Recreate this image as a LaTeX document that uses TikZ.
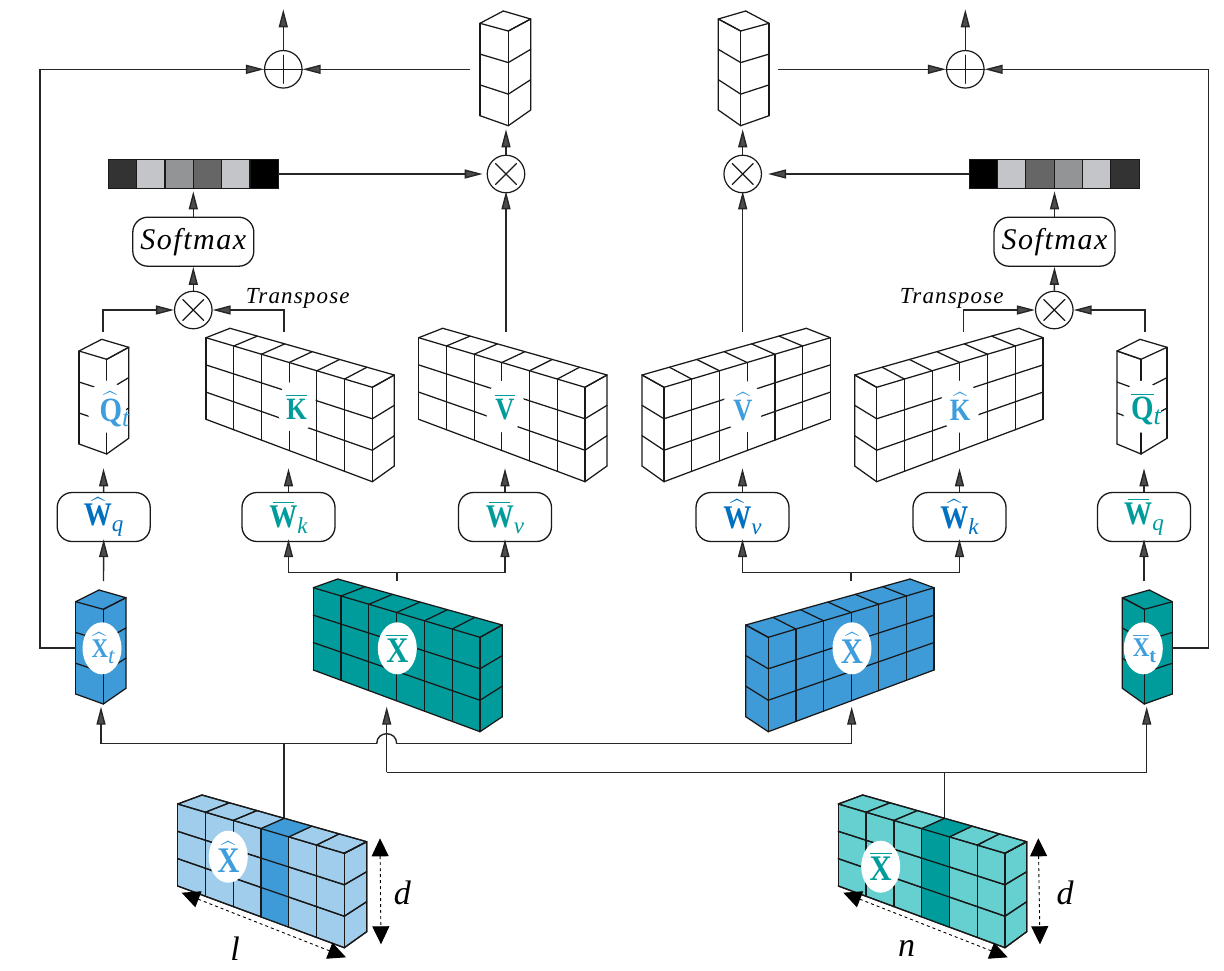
\documentclass[tikz,border=0pt]{standalone}
\usepackage{fontspec}
\usepackage{exscale}
\setmainfont{Liberation Serif}
\newfontfamily\spacedf[LetterSpace=5]{Liberation Serif}
\newfontfamily\labf[FakeStretch=0.85]{Liberation Serif}
\usetikzlibrary{arrows.meta,calc,shapes.geometric}
\definecolor{cblue}{HTML}{3F9BD8}
\definecolor{lblue}{HTML}{A1CDEC}
\definecolor{cteal}{HTML}{009C9C}
\definecolor{lteal}{HTML}{66CFCF}
\definecolor{wblue}{HTML}{0070C0}
\definecolor{tblue}{HTML}{3D9DDD}
\newcommand\hb[1]{$\widehat{\mbox{\labf\bfseries #1}}$}
\newcommand\ob[1]{$\overline{\mbox{\labf\bfseries #1}}$}
\newcommand\hbw{\ooalign{\hfil$\widehat{\vphantom{\mbox{\labf\bfseries W}}\hspace{15pt}}$\hfil\cr\mbox{\labf\bfseries W}\cr}}
\newcommand\obw{\ooalign{\hfil$\overline{\vphantom{\mbox{\labf\bfseries W}}\hspace{21pt}}$\hfil\cr\mbox{\labf\bfseries W}\cr}}
\newcommand\sbs[1]{\raisebox{-6pt}{\fontsize{23}{23}\selectfont\itshape #1}}
\newcommand\sbq[1]{\raisebox{-5pt}{\fontsize{26}{26}\selectfont\itshape #1}}
\newcommand\sbu[1]{\raisebox{-6pt}{\fontsize{20}{20}\selectfont\bfseries #1}}
% FA FB GA GB TA TB RB cols/rows fill
\newcommand\tens[9]{%
 \coordinate (fa) at #1; \coordinate (fb) at #2; \coordinate (ga) at #3;
 \coordinate (gb) at #4; \coordinate (ta) at #5; \coordinate (tb) at #6; \coordinate (rb) at #7;
 \fill[#9] (fa)--(ta)--(tb)--(rb)--(gb)--(ga)--cycle;
 \tenslines{#8}}
\newcommand\tenslines[1]{\tensgrid#1\relax}
\def\tensgrid#1/#2\relax{%
 \foreach \i in {0,...,#1}{
  \pgfmathsetmacro\t{\i/#1}
  \draw[wire] ($(fa)!\t!(fb)$)--($(ga)!\t!(gb)$);
  \draw[wire] ($(fa)!\t!(fb)$)--($(ta)!\t!(tb)$);}
 \foreach \j in {0,...,#2}{
  \pgfmathsetmacro\s{\j/#2}
  \draw[wire] ($(fa)!\s!(ga)$)--($(fb)!\s!(gb)$);
  \draw[wire] ($(fb)!\s!(gb)$)--($(tb)!\s!(rb)$);}
 \draw[wire] (ta)--(tb)--(rb);}
\newcommand\shadecol[3]{%
 \pgfmathsetmacro\ta{#1/#2}\pgfmathsetmacro\tb{(#1+1)/#2}
 \fill[#3] ($(ta)!\ta!(tb)$)--($(ta)!\tb!(tb)$)--($(fa)!\tb!(fb)$)--($(ga)!\tb!(gb)$)--($(ga)!\ta!(gb)$)--($(fa)!\ta!(fb)$)--cycle;}
\begin{document}
\begin{tikzpicture}[x=1pt,y=-1pt,
 wire/.style={line width=1.25pt,draw=black!90,line cap=round,line join=round},
 conn/.style={line width=1.4pt,draw=black!85},
 arr/.style={conn,-{Triangle[length=18pt,width=9pt,fill=black!70]}},
 dimarr/.style={line width=0.9pt,dashed,{Triangle[length=18pt,width=17pt,fill=black]}-{Triangle[length=18pt,width=17pt,fill=black]}},
 rbox/.style={draw=black!90,line width=1.3pt,rounded corners=15pt,fill=white,minimum width=93pt,minimum height=49pt,inner sep=0pt},
 sbox/.style={rbox,minimum width=121pt},
 oper/.style={circle,draw=black!90,line width=1.2pt,fill=white,minimum size=37.5pt,inner sep=0pt},
 lens/.style={ellipse,fill=white,minimum width=39pt,minimum height=52pt,inner sep=0pt},
 labw/.style={inner sep=0pt,font=\fontsize{33}{33}\selectfont},
 labk/.style={inner sep=0pt,font=\fontsize{31}{31}\selectfont},
 labq/.style={inner sep=0pt,font=\fontsize{34}{34}\selectfont},
 labx/.style={inner sep=0pt,font=\fontsize{36}{36}\selectfont},
 labs/.style={inner sep=0pt,font=\fontsize{27}{27}\selectfont},
 dlab/.style={inner sep=0pt,font=\fontsize{34}{34}\selectfont\itshape},
 cell/.style={draw=black!90,line width=1pt,minimum width=28.3pt,minimum height=28.7pt,inner sep=0pt,outer sep=0pt},
]
\useasboundingbox (0,0) rectangle (1224,970);
\fill[white] (0,0) rectangle (1224,970);

% ---- tensors ----
\tens{(480,23.3)}{(508.3,31)}{(480,115.7)}{(508.3,125.7)}{(503.3,11)}{(530.7,19)}{(530.7,110)}{1/3}{white}
\tens{(769,23.3)}{(740.7,31)}{(769,115.7)}{(740.7,125.7)}{(745.7,11)}{(718.3,19)}{(718.3,110)}{1/3}{white}
\tens{(79,351)}{(106.7,359.3)}{(79,444)}{(106.7,454)}{(101.7,339.3)}{(128.7,347.3)}{(128.7,438.3)}{1/3}{white}
\tens{(1167,347.3)}{(1141,359.3)}{(1167,438.3)}{(1141,454)}{(1140,339.3)}{(1117,351)}{(1117,444)}{1/3}{white}
\tens{(206,337.7)}{(372.3,387.3)}{(206,419.3)}{(372.3,481.7)}{(230,328.3)}{(394.3,375)}{(394.3,466)}{6/3}{white}
\tens{(418.7,337.7)}{(585,387.3)}{(418.7,419.3)}{(585,481.7)}{(442.7,328.3)}{(607,375)}{(607,466)}{6/3}{white}
\tens{(830.3,337.7)}{(664,387.3)}{(830.3,419.3)}{(664,481.7)}{(806.3,328.3)}{(642,375)}{(642,466)}{6/3}{white}
\tens{(1043,337.7)}{(876.7,387.3)}{(1043,419.3)}{(876.7,481.7)}{(1019,328.3)}{(854.7,375)}{(854.7,466)}{6/3}{white}
\tens{(75.7,601.7)}{(103.3,609.3)}{(75.7,694)}{(103.3,704)}{(99,590)}{(126,597.7)}{(126,688.3)}{1/3}{cblue}
\tens{(1172.3,601.7)}{(1144.3,609.3)}{(1172.3,694)}{(1144.3,704)}{(1149.3,590)}{(1122.3,597.7)}{(1122.3,688.3)}{1/3}{cteal}
\tens{(313.3,587.7)}{(480,637.3)}{(313.3,670)}{(480,731.7)}{(337.7,579)}{(502.3,625)}{(502.3,716.7)}{6/3}{cteal}
\tens{(934,587.7)}{(768.3,637.3)}{(934,670)}{(768.3,731.7)}{(910,579)}{(745.7,625)}{(745.7,716.7)}{6/3}{cblue}

% ---- operators ----
\node[oper] (addL) at (283.3,69.3) {};
\node[oper] (addR) at (965.3,69.3) {};
\node[oper] (mulL) at (506,174) {};
\node[oper] (mulR) at (742.7,174) {};
\node[oper] (msL) at (193.3,310) {};
\node[oper] (msR) at (1054.3,310) {};
\draw[wire] ([yshift=-14pt]addL.center)--([yshift=14pt]addL.center) (addL.west)--(addL.east);
\draw[wire] ([yshift=-14pt]addR.center)--([yshift=14pt]addR.center) (addR.west)--(addR.east);
\foreach \n in {mulL,mulR,msL,msR}{
 \draw[wire] ([shift={(-10.5,-10.5)}]\n.center)--([shift={(10.5,10.5)}]\n.center);
 \draw[wire] ([shift={(-10.5,10.5)}]\n.center)--([shift={(10.5,-10.5)}]\n.center);}

\node[sbox] (softL) at (193.3,241.7) {\raisebox{-4pt}{\spacedf\itshape\fontsize{30}{30}\selectfont Softmax}};
\node[sbox] (softR) at (1054.5,241.7) {\raisebox{-4pt}{\spacedf\itshape\fontsize{30}{30}\selectfont Softmax}};
\node[inner sep=0pt] (trL) at (297.7,298) {\spacedf\itshape\fontsize{23}{23}\selectfont Transpose};
\node[inner sep=0pt] (trR) at (951.7,298) {\spacedf\itshape\fontsize{23}{23}\selectfont Transpose};

% softmax bars
\foreach \c [count=\i from 0] in {333333,C4C5C9,939496,666666,C4C5C9,000000}{
 \definecolor{cc}{HTML}{\c}
 \node[cell,fill=cc] at (122.5+28.33*\i,174.3) {};}
\foreach \c [count=\i from 0] in {000000,C4C5C9,666666,939496,C4C5C9,333333}{
 \definecolor{cc}{HTML}{\c}
 \node[cell,fill=cc] at (983.2+28.33*\i,174.3) {};}
\coordinate (barL) at (278.3,174);
\coordinate (barR) at (969,174);
\coordinate (barLb) at (193.3,189);
\coordinate (barRb) at (1054.5,189);

\node[rbox] (wqL) at (103.7,517) {};
\node[rbox] (wkL) at (288.5,517) {};
\node[rbox] (wvL) at (505,517) {};
\node[rbox] (wvR) at (742.5,517) {};
\node[rbox] (wkR) at (959.5,517) {};
\node[rbox] (wqR) at (1144,517) {};
\node[labw,text=wblue] at (wqL) {\hbw\sbs{q}};
\node[labw,text=cteal] at (wkL) {\obw\sbs{k}};
\node[labw,text=cteal] at (wvL) {\obw\sbs{v}};
\node[labw,text=wblue] at (wvR) {\hbw\sbs{v}};
\node[labw,text=wblue] at (wkR) {\hbw\sbs{k}};
\node[labw,text=cteal] at (wqR) {\obw\sbs{q}};

% connector coordinates
\coordinate (stackLb) at (506,129.3);
\coordinate (stackRb) at (742.7,129.3);
\coordinate (stackLl) at (470,69.3);
\coordinate (stackRr) at (778.3,69.3);
\coordinate (upL) at (283.3,9.3);
\coordinate (upR) at (965.3,9.3);
\coordinate (vbarT) at (506,331.7);
\coordinate (vhatT) at (742.7,331.7);
\coordinate (qhT) at (103,331.7);
\coordinate (kbT) at (284,331.7);
\coordinate (khT) at (963.5,331.7);
\coordinate (qbT) at (1145,331.7);
\coordinate (xtL) at (75.7,648);
\coordinate (xtR) at (1172.3,648);
\coordinate (xbT) at (397,581);
\coordinate (xhT) at (851,581);
\coordinate (xtLt) at (103.5,581);
\coordinate (xtRt) at (1144,581);
\coordinate (xtLb) at (101,706.7);
\coordinate (xbB) at (386.7,706.7);
\coordinate (xhB) at (851.7,706.7);
\coordinate (xtRb) at (1146.7,706.7);
\coordinate (srcL) at (284,818);
\coordinate (srcR) at (944.3,818);
\coordinate (wqLt) at (103.5,468.3);
\coordinate (wkLt) at (288.5,468.3);
\coordinate (wvLt) at (505,468.3);
\coordinate (wvRt) at (742.5,468.3);
\coordinate (wkRt) at (959.5,468.3);
\coordinate (wqRt) at (1144,468.3);

\draw[arr] (xtL)--(40,648)--(40,69.3)--(addL.west);
\draw[arr] (stackLl)--(addL.east);
\draw[arr] (addL.north)--(upL);
\draw[arr] (xtR)--(1208.7,648)--(1208.7,69.3)--(addR.east);
\draw[arr] (stackRr)--(addR.west);
\draw[arr] (addR.north)--(upR);
\draw[arr] (barL)--([xshift=-4pt]mulL.west);
\draw[arr] (barR)--([xshift=6pt]mulR.east);
\draw[arr] (mulL.north)--(stackLb);
\draw[arr] (mulR.north)--(stackRb);
\draw[arr] (vbarT)--([yshift=2pt]mulL.south);
\draw[arr] (vhatT)--([yshift=2pt]mulR.south);
\draw[arr] (softL.north)--(barLb|-0,191.3);
\draw[arr] (softR.north)--(barRb|-0,191.3);
\draw[arr] (msL.north)--(softL.south);
\draw[arr] (msR.north)--(softR.south);
\draw[arr] (qhT)--(qhT|-msL)--(msL.west);
\draw[arr] (kbT)--(kbT|-msL)--(msL.east);
\draw[arr] (khT)--(khT|-msR)--(msR.west);
\draw[arr] (qbT)--(qbT|-msR)--(msR.east);
\foreach \b/\t in {wqL/wqLt,wkL/wkLt,wvL/wvLt,wvR/wvRt,wkR/wkRt,wqR/wqRt}{
 \draw[arr] (\b.north)--(\t);}
\draw[arr] (xtLt)--([yshift=3pt]wqL.south);
\draw[arr] (xtRt)--([yshift=3pt]wqR.south);
\draw[conn] (xbT)--(xbT|-0,572.5);
\draw[conn] (xhT)--(xhT|-0,572.5);
\draw[arr] (xbT|-0,572.5)-|([yshift=3pt]wkL.south);
\draw[arr] (xbT|-0,572.5)-|([yshift=3pt]wvL.south);
\draw[arr] (xhT|-0,572.5)-|([yshift=3pt]wvR.south);
\draw[arr] (xhT|-0,572.5)-|([yshift=3pt]wkR.south);
\draw[conn] (srcL)--(srcL|-0,743.7);
\draw[conn] (srcR)--(srcR|-0,772.3);
\draw[arr] (376.7,743.7)--(xtLb|-0,743.7)--(xtLb);
\draw[arr] (396.7,743.7)--(xhB|-0,743.7)--(xhB);
\draw[conn] (376.7,743.7) .. controls (376.7,730.4) and (396.7,730.4) .. (396.7,743.7);
\draw[arr] (xbB|-0,772.3)--(xbB);
\draw[arr] (xbB|-0,772.3)--(xtRb|-0,772.3)--(xtRb);

% source tensors
\tens{(177.7,804)}{(344.3,853.3)}{(177.7,886)}{(344.3,947.7)}{(202,795)}{(366.7,841.7)}{(366.7,931.7)}{6/3}{lblue}
\shadecol{3}{6}{cblue}
\tenslines{6/3}
\tens{(838.3,804)}{(1005,853.3)}{(838.3,886)}{(1005,947.7)}{(862.7,795)}{(1026.7,841.7)}{(1026.7,931.7)}{6/3}{lteal}
\shadecol{3}{6}{cteal}
\tenslines{6/3}

% lenses + labels
\node[lens] (e1) at (106.7,406.7) {};
\node[labq,text=tblue] at (114.5,409) {\hb{Q}\sbq{t}};
\node[lens] (e2) at (296.7,406.7) {};
\node[labk,text=cteal] at (e2) {\ob{K}};
\node[lens] (e3) at (505,406.7) {};
\node[labk,text=cteal] at (e3) {\ob{V}};
\node[lens] (e4) at (743,406.7) {};
\node[labk,text=tblue] at (e4) {\hb{V}};
\node[lens] (e5) at (960,406.7) {};
\node[labk,text=tblue] at (e5) {\hb{K}};
\node[lens] (e6) at (1142,406.7) {};
\node[labq,text=cteal] at (1146,409) {\ob{Q}\sbq{t}};
\node[lens] (e7) at (102,648.3) {};
\node[labs,text=tblue] at (103,648) {\hb{X}\sbs{t}};
\node[lens] (e8) at (397.3,648.3) {};
\node[labx,text=cteal] at (e8) {\ob{X}};
\node[lens] (e9) at (852,648.3) {};
\node[labx,text=tblue] at (e9) {\hb{X}};
\node[lens] (e10) at (1143.3,648.3) {};
\node[labs,text=tblue] at (1144.5,648) {\ob{X}\sbu{t}};
\node[lens] (e11) at (228.3,856.7) {};
\node[labx,text=tblue] at (e11) {\hb{X}};
\node[lens] (e12) at (880.7,866.7) {};
\node[labx,text=cteal] at (e12) {\ob{X}};

% dimensions
\coordinate (d1a) at (380,838.3); \coordinate (d1b) at (381,944.3);
\coordinate (d2a) at (1038.3,838.3); \coordinate (d2b) at (1040,944.3);
\coordinate (l1a) at (181.7,892.7); \coordinate (l1b) at (346,957.3);
\coordinate (l2a) at (843.3,892.7); \coordinate (l2b) at (1007.7,957.3);
\draw[dimarr] (d1a)--(d1b);
\draw[dimarr] (d2a)--(d2b);
\draw[dimarr] (l1a)--(l1b);
\draw[dimarr] (l2a)--(l2b);
\node[dlab] (dL) at (402.3,893) {d};
\node[dlab] (dR) at (1065,893) {d};
\node[dlab] (lL) at (235,949) {l};
\node[dlab] (nR) at (906.7,948) {n};
\end{tikzpicture}
\end{document}
